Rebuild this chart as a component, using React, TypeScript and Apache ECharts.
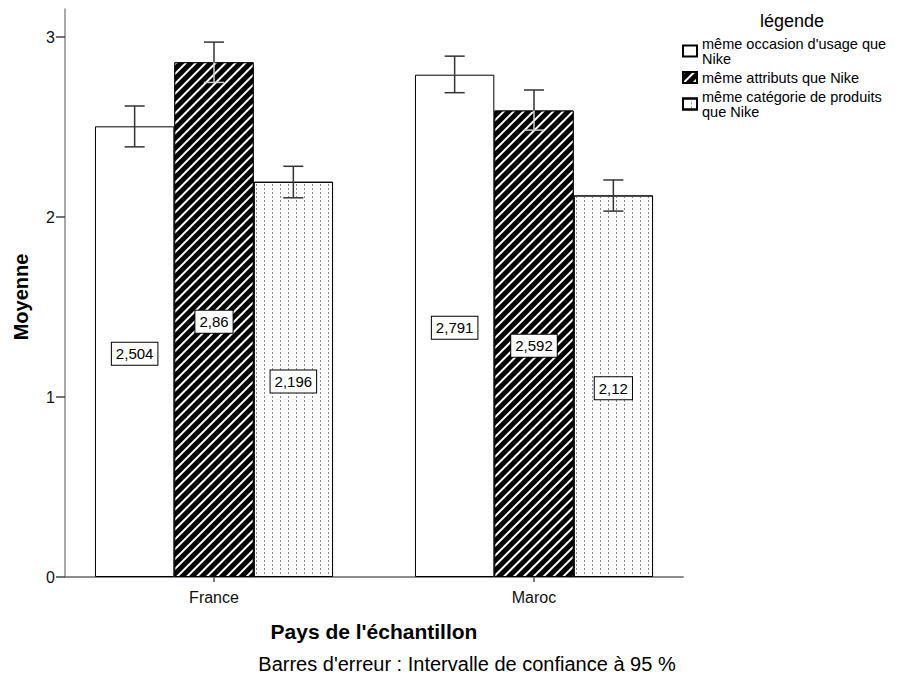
import React, { useEffect, useRef } from "react";
import * as echarts from "echarts";

const categories = ["France", "Maroc"];
const seriesNames = [
  "même occasion d'usage que Nike",
  "même attributs que Nike",
  "même catégorie de produits que Nike",
];
const legendLabels = [
  "même occasion d'usage que\nNike",
  "même attributs que Nike",
  "même catégorie de produits\nque Nike",
];
const occasion = [2.504, 2.791];
const attributs = [2.86, 2.592];
const categorie = [2.196, 2.12];
const occasionCI = [
  [2.39, 2.617],
  [2.691, 2.894],
];
const attributsCI = [
  [2.748, 2.972],
  [2.483, 2.706],
];
const categorieCI = [
  [2.107, 2.282],
  [2.033, 2.206],
];
const yTicks = [0, 1, 2, 3];

const BAR_FRAC = 0.248;
const FONT = "'Liberation Sans', Arial, sans-serif";

const fmt = (v: number) => String(v).replace(".", ",");

export default function App() {
  const ref = useRef<HTMLDivElement>(null);
  useEffect(() => {
    if (!ref.current) return;
    const chart = echarts.init(ref.current, null, { renderer: "svg" });
    const values = [occasion, attributs, categorie];
    const cis = [occasionCI, attributsCI, categorieCI];
    const errData: number[][] = [];
    cis.forEach((ci, s) =>
      ci.forEach((r, c) => errData.push([c, r[0], r[1], s, values[s][c]]))
    );
    const labelStyle = {
      show: true,
      position: "inside",
      formatter: (p: any) => fmt(p.value),
      color: "#000",
      fontSize: 15,
      fontFamily: FONT,
      backgroundColor: "#fff",
      borderColor: "#000",
      borderWidth: 1,
      padding: [4, 4, 3, 4],
      offset: [0, 2],
    };
    const decals: any[] = [
      null,
      {
        symbol: "rect",
        symbolSize: 1,
        color: "#fff",
        dashArrayX: [1, 0],
        dashArrayY: [2, 5],
        rotation: -Math.PI / 4,
      },
      {
        symbol: "rect",
        symbolSize: 1,
        color: "#8a8a8a",
        dashArrayX: [1, 7],
        dashArrayY: [2, 2],
        rotation: 0,
      },
    ];
    const fills = ["#fff", "#000", "#fff"];
    const barSeries = values.map((v, s) => ({
      type: "bar",
      name: seriesNames[s],
      data: v,
      xAxisIndex: 0,
      yAxisIndex: 0,
      barWidth: BAR_FRAC * 100 + "%",
      barGap: "0%",
      itemStyle: {
        color: fills[s],
        borderColor: "#000",
        borderWidth: 1,
        ...(decals[s] ? { decal: decals[s] } : {}),
      },
      label: labelStyle,
      emphasis: { disabled: true },
    }));
    const option: any = {
      animation: false,
      grid: [
        { left: 54, right: 210, top: 9, bottom: 104 },
        { left: 65, right: 221, top: 9, bottom: 104 },
      ],
      xAxis: [
        {
          type: "category",
          gridIndex: 0,
          data: categories,
          axisLine: { show: false },
          axisTick: {
            show: true,
            alignWithLabel: true,
            length: 5,
            lineStyle: { color: "#555", width: 1.5 },
          },
          axisLabel: {
            color: "#111",
            fontSize: 16,
            fontFamily: FONT,
            margin: 12,
          },
        },
        {
          type: "category",
          gridIndex: 1,
          data: categories,
          axisLine: { show: true, lineStyle: { color: "#8c8c8c", width: 2 } },
          axisTick: { show: false },
          axisLabel: { show: false },
        },
      ],
      yAxis: [
        {
          type: "value",
          gridIndex: 0,
          min: 0,
          max: 3.156,
          show: false,
          splitLine: { show: false },
        },
        {
          type: "value",
          gridIndex: 1,
          min: 0,
          max: 3.156,
          axisLine: { show: true, lineStyle: { color: "#8c8c8c", width: 1.5 } },
          axisTick: {
            show: true,
            length: 9,
            customValues: yTicks,
            lineStyle: { color: "#444", width: 1.5 },
          },
          axisLabel: {
            customValues: yTicks,
            color: "#111",
            fontSize: 16,
            fontFamily: FONT,
            margin: 10,
          },
          splitLine: { show: false },
        },
      ],
      legend: {
        orient: "vertical",
        left: 682,
        top: 36,
        padding: 0,
        itemWidth: 14,
        itemHeight: 11,
        itemGap: 4,
        selectedMode: false,
        icon: "rect",
        data: seriesNames,
        formatter: (name: string) => legendLabels[seriesNames.indexOf(name)],
        textStyle: {
          color: "#000",
          fontSize: 14.5,
          lineHeight: 15,
          fontFamily: FONT,
        },
      },
      series: [
        ...barSeries,
        {
          type: "custom",
          name: "err",
          xAxisIndex: 0,
          yAxisIndex: 0,
          data: errData,
          encode: { x: 0, y: [1, 2] },
          z: 5,
          silent: true,
          renderItem: (params: any, api: any) => {
            const c = api.value(0);
            const lo = api.value(1);
            const hi = api.value(2);
            const s = api.value(3);
            const v = api.value(4);
            const band = api.size([1, 0])[0];
            const pTop = api.coord([c, hi]);
            const pBot = api.coord([c, lo]);
            const pVal = api.coord([c, v]);
            const x = pTop[0] + (s - 1) * band * BAR_FRAC;
            const hw = 10;
            const dark = { stroke: "#333", lineWidth: 1.5 };
            const inner = s === 1 ? { stroke: "#d0d0d0", lineWidth: 1.5 } : dark;
            return {
              type: "group",
              children: [
                { type: "line", shape: { x1: x, y1: pTop[1], x2: x, y2: pVal[1] }, style: dark },
                { type: "line", shape: { x1: x - hw, y1: pTop[1], x2: x + hw, y2: pTop[1] }, style: dark },
                { type: "line", shape: { x1: x, y1: pVal[1], x2: x, y2: pBot[1] }, style: inner },
                { type: "line", shape: { x1: x - hw, y1: pBot[1], x2: x + hw, y2: pBot[1] }, style: inner },
              ],
            };
          },
        },
      ],
      graphic: [
        {
          type: "text",
          x: 792,
          y: 21,
          style: {
            text: "légende",
            font: `18px ${FONT}`,
            fill: "#000",
            textAlign: "center",
            textVerticalAlign: "middle",
          },
        },
        {
          type: "text",
          x: 21,
          y: 297,
          rotation: Math.PI / 2,
          style: {
            text: "Moyenne",
            font: `bold 20px ${FONT}`,
            fill: "#000",
            textAlign: "center",
            textVerticalAlign: "middle",
          },
        },
        {
          type: "text",
          x: 374,
          y: 631,
          style: {
            text: "Pays de l'échantillon",
            font: `bold 21px ${FONT}`,
            fill: "#000",
            textAlign: "center",
            textVerticalAlign: "middle",
          },
        },
        {
          type: "text",
          x: 467,
          y: 664,
          style: {
            text: "Barres d'erreur : Intervalle de confiance à 95 %",
            font: `20px ${FONT}`,
            fill: "#000",
            textAlign: "center",
            textVerticalAlign: "middle",
          },
        },
      ],
    };
    chart.setOption(option);
    return () => chart.dispose();
  }, []);
  return (
    <div
      ref={ref}
      style={{ position: "fixed", left: 0, top: 0, width: 904, height: 681, background: "#fff" }}
    />
  );
}
